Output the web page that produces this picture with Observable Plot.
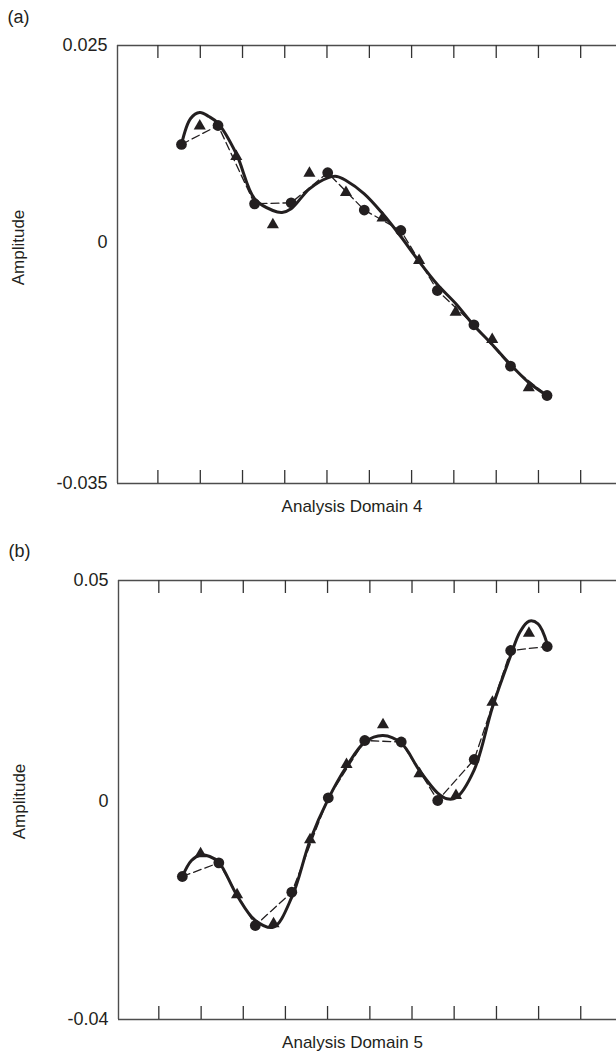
<!DOCTYPE html>
<html>
<head>
<meta charset="utf-8">
<script src="https://cdn.jsdelivr.net/npm/d3@7"></script>
<script src="https://cdn.jsdelivr.net/npm/@observablehq/plot@0.6"></script>
<style>
  html, body { margin: 0; padding: 0; background: #fff; overflow: hidden; }
  #chart svg { display: block; }
</style>
</head>
<body>
<div id="chart"></div>
<script>
// ---- shared x positions (sample index) ----
const pointIndex = [0, 1, 2, 3, 4, 5, 6, 7, 8, 9, 10, 11, 12, 13, 14, 15, 16, 17, 18, 19, 20];
const pointShape = ["circle", "triangle", "circle", "triangle", "circle", "triangle", "circle",
  "triangle", "circle", "triangle", "circle", "triangle", "circle", "triangle", "circle",
  "triangle", "circle", "triangle", "circle", "triangle", "circle"];
const xTickPositions = [-1.29, 1.03, 3.34, 5.65, 7.96, 10.28, 12.59, 14.90, 17.22, 19.53, 21.84];
const xDomain = [-3.5, 23.8];

// ---- panel (a): Analysis Domain 4 ----
const domain4Points = [0.01244, 0.01478, 0.01485, 0.01091, 0.00491, 0.00225, 0.00504, 0.00879,
  0.00885, 0.00635, 0.00412, 0.00311, 0.00152, -0.00261, -0.00697, -0.01012, -0.01195,
  -0.01409, -0.01796, -0.0211, -0.02222];
const domain4FitIndex = [0, 0.5, 1, 1.5, 2, 3, 4, 5, 5.5, 6, 7, 8, 8.5, 9, 10, 11, 12, 13, 14, 15, 16, 17, 18, 19, 20];
const domain4Fit = [0.01244, 0.01574, 0.0165, 0.01599, 0.01514, 0.01126, 0.00555, 0.00406, 0.00381,
  0.00428, 0.00681, 0.00821, 0.00838, 0.00787, 0.00618, 0.00368, 0.00076, -0.00276, -0.0061,
  -0.00886, -0.01205, -0.01481, -0.01772, -0.02033, -0.02222];
const domain4YTicks = [-0.035, 0, 0.025];
const domain4YLabels = ["-0.035", "0", "0.025"];

// ---- panel (b): Analysis Domain 5 ----
const domain5Points = [-0.01376, -0.0096, -0.01125, -0.01712, -0.02275, -0.02244, -0.01664, -0.00703,
  0.00084, 0.00837, 0.0138, 0.01735, 0.01346, 0.00627, 0.00023, 0.00136, 0.0095, 0.02247,
  0.03416, 0.03808, 0.03507];
const domain5FitIndex = [0, 0.5, 1, 1.5, 2, 3, 4, 5, 6, 7, 8, 9, 10, 11, 12, 13, 14, 14.5, 15, 16, 17, 18, 18.5, 19, 19.5, 20];
const domain5Fit = [-0.01376, -0.01083, -0.00982, -0.01009, -0.01114, -0.01725, -0.02183, -0.02306,
  -0.01756, -0.00716, 0.00061, 0.00792, 0.01342, 0.01493, 0.01319, 0.00701, 0.00188, 0.00061,
  0.00084, 0.00717, 0.02133, 0.03303, 0.0383, 0.04079, 0.0402, 0.03568];
const domain5YTicks = [-0.04, 0, 0.05];
const domain5YLabels = ["-0.04", "0", "0.05"];

const ink = "#231f20";
const frameInk = "#4d4d4d";

function panel({tag, xLabel, points, fitIndex, fit, yTicks, yLabels, height, marginTop, marginBottom, marginLeft, zeroAt, titleShift}) {
  const frameH = height - marginTop - marginBottom;
  // piecewise linear axis: bottom label, zero label, top label as placed in the figure
  const yRange = [height - marginBottom, zeroAt, marginTop];
  const pts = pointIndex.map((x, i) => ({x, y: points[i], shape: pointShape[i]}));
  const circles = pts.filter(d => d.shape === "circle");
  const triangles = pts.filter(d => d.shape === "triangle");
  const fitData = fitIndex.map((x, i) => ({x, y: fit[i]}));
  return Plot.plot({
    width: 616,
    height,
    marginTop,
    marginBottom,
    marginLeft,
    marginRight: 0,
    style: {fontFamily: "'Liberation Sans', Arial, Helvetica, sans-serif", fontSize: "17px", color: ink, background: "#fff"},
    x: {type: "linear", domain: xDomain, axis: null},
    y: {type: "linear", domain: yTicks, range: yRange, axis: null},
    marks: [
      // frame: left, top, bottom
      Plot.ruleX([xDomain[0]], {stroke: frameInk, strokeWidth: 1.4}),
      Plot.ruleY([yTicks[0], yTicks[2]], {stroke: frameInk, strokeWidth: 1.4}),
      // inward ticks on top and bottom
      Plot.ruleX(xTickPositions, {insetBottom: frameH - 13, stroke: "#333", strokeWidth: 1.3}),
      Plot.ruleX(xTickPositions, {insetTop: frameH - 13, stroke: "#333", strokeWidth: 1.3}),
      // y tick labels
      Plot.axisY({ticks: yTicks, tickSize: 0, tickPadding: 10, tickFormat: (d) => yLabels[yTicks.indexOf(d)], label: null, fontSize: 18}),
      // dashed line through the circle series
      Plot.line(circles, {x: "x", y: "y", stroke: ink, strokeWidth: 1.3, strokeDasharray: "8,4"}),
      // smooth fitted curve
      Plot.line(fitData, {x: "x", y: "y", stroke: ink, strokeWidth: 3, curve: "catmull-rom"}),
      // markers
      Plot.dot(circles, {x: "x", y: "y", r: 5.4, fill: ink, symbol: "circle"}),
      Plot.dot(triangles, {x: "x", y: "y", r: 4.5, fill: ink, symbol: "triangle"}),
      // labels
      Plot.text([tag], {text: d => d, frameAnchor: "top-left", textAnchor: "start", lineAnchor: "middle", dx: -110, dy: marginTop === 45 ? -28 : -29, fill: ink, fontSize: 18}),
      Plot.text([0], {y: d => d, text: () => "Amplitude", frameAnchor: "left", textAnchor: "middle", lineAnchor: "middle", dx: -99, dy: titleShift, rotate: -90, fill: ink, fontSize: 17}),
      Plot.text([xLabel], {text: d => d, frameAnchor: "bottom", lineAnchor: "middle", textAnchor: "middle", dx: -15, dy: 23, fill: ink, fontSize: 17})
    ]
  });
}

const chart = document.getElementById("chart");
chart.append(panel({
  tag: "(a)", xLabel: "Analysis Domain 4",
  points: domain4Points, fitIndex: domain4FitIndex, fit: domain4Fit,
  yTicks: domain4YTicks, yLabels: domain4YLabels,
  height: 528, marginTop: 45, marginBottom: 45, marginLeft: 117, zeroAt: 242, titleShift: 5
}));
chart.append(panel({
  tag: "(b)", xLabel: "Analysis Domain 5",
  points: domain5Points, fitIndex: domain5FitIndex, fit: domain5Fit,
  yTicks: domain5YTicks, yLabels: domain5YLabels,
  height: 529, marginTop: 52, marginBottom: 38, marginLeft: 118, zeroAt: 273, titleShift: 0
}));
</script>
</body>
</html>
